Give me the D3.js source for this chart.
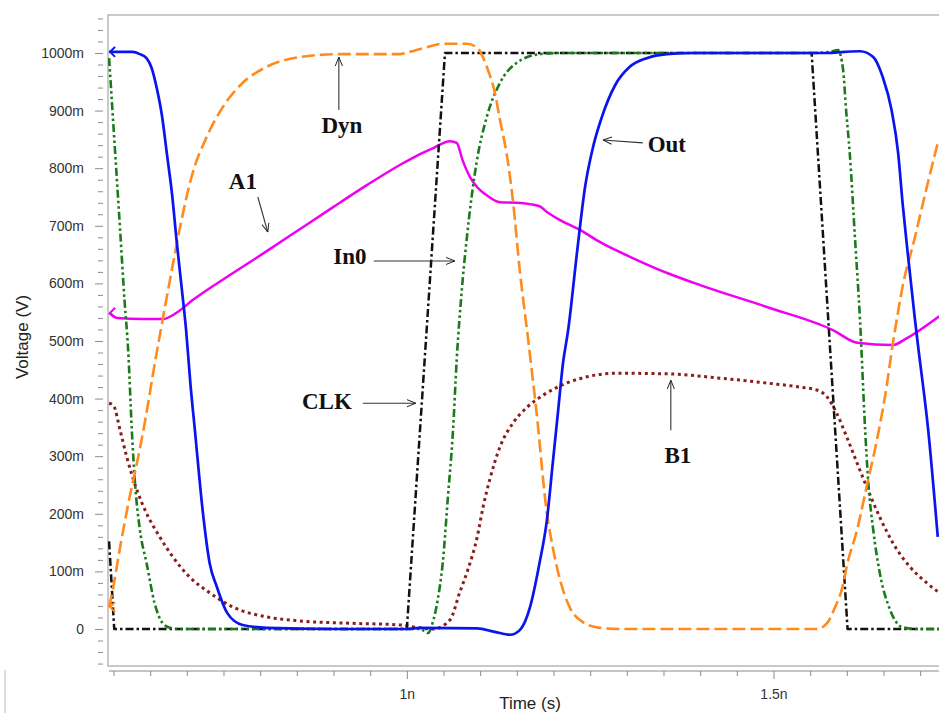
<!DOCTYPE html>
<html>
<head>
<meta charset="utf-8">
<script src="https://cdn.jsdelivr.net/npm/d3@7"></script>
<style>
  body { margin: 0; background: #fff; }
  svg { display: block; }
  .tick text { font-family: "Liberation Sans", Arial, sans-serif; font-size: 14px; fill: #333; }
  .tick line { stroke: #8c8c8c; }
  .axis-title { font-family: "Liberation Sans", Arial, sans-serif; font-size: 17px; fill: #222; }
  .note { font-family: "Liberation Serif", "Times New Roman", serif; font-weight: bold; font-size: 23px; fill: #111; }
  .wave { fill: none; stroke-linejoin: round; }
</style>
</head>
<body>
<svg id="chart"></svg>
<script>
// time in ns, voltage in mV
const outWave = [[0.594,1002],[0.626,1002],[0.636,998],[0.645,991],[0.652,974],[0.659,939],[0.666,892],[0.673,823],[0.680,753],[0.686,675],[0.693,592],[0.699,519],[0.705,424],[0.711,345],[0.722,201],[0.731,115],[0.741,73],[0.755,28],[0.776,7],[0.809,2],[0.900,0],[1.000,0],[1.018,2],[1.096,1],[1.120,-5],[1.141,-10],[1.154,-2],[1.168,38],[1.181,115],[1.191,189],[1.199,288],[1.206,375],[1.213,462],[1.220,519],[1.232,653],[1.243,767],[1.254,837],[1.266,889],[1.284,944],[1.304,976],[1.327,991],[1.355,998],[1.390,1000],[1.573,1000],[1.597,1002],[1.618,1003],[1.636,993],[1.649,958],[1.661,901],[1.670,826],[1.676,740],[1.683,653],[1.693,536],[1.697,493],[1.711,345],[1.724,160]];

const dynWave = [[0.594,38],[0.599,68],[0.609,142],[0.622,229],[0.632,288],[0.645,375],[0.654,444],[0.666,530],[0.677,606],[0.690,693],[0.708,792],[0.727,854],[0.749,906],[0.776,948],[0.809,976],[0.854,993],[0.909,998],[0.990,998],[1.004,1002],[1.027,1010],[1.049,1016],[1.082,1016],[1.096,1009],[1.109,976],[1.120,931],[1.127,884],[1.136,826],[1.145,740],[1.154,623],[1.165,507],[1.177,375],[1.191,201],[1.199,142],[1.209,85],[1.222,38],[1.240,12],[1.263,2],[1.290,0],[1.559,0],[1.573,10],[1.584,38],[1.593,68],[1.601,115],[1.614,172],[1.627,247],[1.641,328],[1.652,403],[1.663,497],[1.676,594],[1.693,681],[1.709,767],[1.724,844]];

const a1Wave = [[0.594,549],[0.605,540],[0.640,538],[0.667,538],[0.686,549],[0.708,571],[0.763,618],[0.809,656],[0.854,694],[0.899,732],[0.946,771],[0.991,806],[1.014,822],[1.036,835],[1.059,847],[1.068,844],[1.076,814],[1.086,785],[1.096,767],[1.109,753],[1.127,741],[1.150,740],[1.181,734],[1.191,724],[1.209,710],[1.236,693],[1.263,672],[1.308,644],[1.355,618],[1.400,597],[1.491,559],[1.581,519],[1.614,497],[1.663,493],[1.682,505],[1.726,543]];

const b1Wave = [[0.594,392],[0.600,388],[0.609,345],[0.618,299],[0.632,241],[0.645,201],[0.663,160],[0.681,125],[0.704,90],[0.731,63],[0.763,38],[0.809,21],[0.854,14],[0.922,10],[0.991,7],[1.018,2],[1.036,0],[1.059,16],[1.072,63],[1.083,102],[1.096,160],[1.104,212],[1.113,259],[1.127,316],[1.145,358],[1.164,385],[1.186,406],[1.218,427],[1.246,438],[1.286,444],[1.355,443],[1.423,436],[1.491,427],[1.536,420],[1.559,415],[1.573,403],[1.586,375],[1.600,333],[1.614,288],[1.627,247],[1.645,194],[1.663,149],[1.686,108],[1.709,80],[1.726,63]];

const in0Wave = [[0.594,991],[0.602,832],[0.609,693],[0.615,571],[0.620,484],[0.625,345],[0.629,259],[0.636,172],[0.645,115],[0.656,45],[0.667,10],[0.677,2],[0.690,0],[1.018,0],[1.029,-7],[1.035,10],[1.042,50],[1.049,115],[1.056,229],[1.063,345],[1.068,467],[1.075,589],[1.082,681],[1.095,809],[1.109,889],[1.127,948],[1.150,983],[1.181,998],[1.209,1000],[1.550,1000],[1.577,1002],[1.588,1005],[1.595,970],[1.599,901],[1.604,826],[1.611,681],[1.618,536],[1.625,345],[1.629,259],[1.636,172],[1.645,97],[1.659,33],[1.676,3],[1.696,0],[1.727,0]];

const clkWave = [[0.594,152],[0.601,0],[1.000,0],[1.052,1000],[1.552,1000],[1.601,0],[1.730,0]];

const yTickValues = d3.range(-60, 1061, 20);
const yTickLabels = ["0","100m","200m","300m","400m","500m","600m","700m","800m","900m","1000m"];
const xTickValues = d3.range(12, 35).map(d => d / 20);
const xMajorValues = [1, 1.5];
const xTickLabels = ["1n", "1.5n"];

// label, text anchor [t, v], arrow from [t, v] to [t, v]
const notes = [
  {text: "Dyn", at: [0.9114, 861], from: [0.9073, 901], to: [0.9073, 993]},
  {text: "A1",  at: [0.7764, 764], from: [0.7968, 750], to: [0.8104, 689]},
  {text: "In0", at: [0.9223, 634], from: [0.9550, 639], to: [1.0655, 639]},
  {text: "Out", at: [1.3546, 828], from: [1.3218, 844], to: [1.2673, 849]},
  {text: "CLK", at: [0.8910, 382], from: [0.9400, 392], to: [1.0123, 392]},
  {text: "B1",  at: [1.3696, 288], from: [1.3600, 345], to: [1.3600, 432]}
];

class WaveChart {
  constructor(_config) {
    this.config = {
      parentElement: _config.parentElement,
      containerWidth: _config.containerWidth || 939,
      containerHeight: _config.containerHeight || 713,
      frame: {left: 108, top: 15, right: 947, bottom: 666}
    };
    this.series = _config.series;
    this.notes = _config.notes;
    this.initVis();
  }

  initVis() {
    let vis = this;
    const f = vis.config.frame;

    vis.svg = d3.select(vis.config.parentElement)
      .attr('width', vis.config.containerWidth)
      .attr('height', vis.config.containerHeight);

    vis.x = d3.scaleLinear().domain([0.5925, 1.7366]).range([f.left, f.right]);
    vis.y = d3.scaleLinear().domain([-64.24, 1065.97]).range([f.bottom, f.top]);

    const defs = vis.svg.append('defs');
    defs.append('clipPath').attr('id', 'plotClip')
      .append('rect')
      .attr('x', f.left).attr('y', f.top)
      .attr('width', f.right - f.left).attr('height', f.bottom - f.top);

    defs.append('marker')
      .attr('id', 'arrowHead')
      .attr('viewBox', '0 0 10 10')
      .attr('refX', 10).attr('refY', 5)
      .attr('markerWidth', 9).attr('markerHeight', 9)
      .attr('markerUnits', 'userSpaceOnUse')
      .attr('orient', 'auto')
      .append('path')
      .attr('d', 'M0,1 L10,5 L0,9')
      .attr('fill', 'none')
      .attr('stroke', '#222')
      .attr('stroke-width', 1.1);

    // plot frame
    vis.svg.append('rect')
      .attr('x', f.left).attr('y', f.top)
      .attr('width', f.right - f.left).attr('height', f.bottom - f.top)
      .attr('fill', 'none')
      .attr('stroke', '#a6a6a6')
      .attr('stroke-width', 1.2);

    // stray window edge at bottom left
    vis.svg.append('line')
      .attr('x1', 5).attr('x2', 5).attr('y1', 670).attr('y2', 713)
      .attr('stroke', '#d0d0d0').attr('stroke-width', 1.5);

    vis.chart = vis.svg.append('g').attr('clip-path', 'url(#plotClip)');
    vis.annot = vis.svg.append('g');
  }

  update() {
    let vis = this;
    const f = vis.config.frame;

    // y axis: minor ticks every 20m, labels every 100m
    const yAxis = d3.axisLeft(vis.y)
      .tickValues(yTickValues)
      .tickSize(5)
      .tickPadding(14)
      .tickFormat(d => (d >= 0 && d % 100 === 0) ? yTickLabels[d / 100] : '');
    const gy = vis.svg.append('g')
      .attr('transform', `translate(${f.left - 5},0)`)
      .call(yAxis);
    gy.select('.domain').remove();
    gy.selectAll('.tick').filter(d => d % 100 === 0).select('line').attr('x2', -8);

    // x axis sits just under the frame
    const xAxis = d3.axisBottom(vis.x)
      .tickValues(xTickValues)
      .tickSize(5)
      .tickSizeOuter(0)
      .tickPadding(13)
      .tickFormat(d => {
        const i = xMajorValues.findIndex(m => Math.abs(m - d) < 1e-6);
        return i >= 0 ? xTickLabels[i] : '';
      });
    const gx = vis.svg.append('g')
      .attr('transform', `translate(0,${f.bottom + 5})`)
      .call(xAxis);
    gx.select('.domain').attr('stroke', '#8c8c8c').attr('d', `M${f.left + 1},0H${f.right}`);
    gx.selectAll('.tick')
      .filter(d => xMajorValues.some(m => Math.abs(m - d) < 1e-6))
      .select('line').attr('y2', 8);

    vis.svg.append('text')
      .attr('class', 'axis-title')
      .attr('x', 530).attr('y', 709)
      .attr('text-anchor', 'middle')
      .text('Time (s)');

    vis.svg.append('text')
      .attr('class', 'axis-title')
      .attr('transform', 'translate(28,337) rotate(-90)')
      .attr('text-anchor', 'middle')
      .text('Voltage (V)');

    vis.render();
  }

  render() {
    let vis = this;

    const line = d3.line()
      .x(d => vis.x(d[0]))
      .y(d => vis.y(d[1]))
      .curve(d3.curveMonotoneX);
    const straight = d3.line()
      .x(d => vis.x(d[0]))
      .y(d => vis.y(d[1]));

    vis.chart.selectAll('path.wave')
      .data(vis.series)
      .join('path')
      .attr('class', 'wave')
      .attr('d', d => d.linear ? straight(d.data) : line(d.data))
      .attr('stroke', d => d.color)
      .attr('stroke-width', d => d.width)
      .attr('stroke-dasharray', d => d.dash);

    // little "<" start markers where a trace enters the window
    vis.chart.selectAll('path.start-mark')
      .data(vis.series.filter(d => d.startMark))
      .join('path')
      .attr('class', 'start-mark')
      .attr('d', d => {
        const x0 = vis.x(d.data[0][0]), y0 = vis.y(d.data[0][1]);
        return `M${x0 + 6},${y0 - 5}L${x0 + 1},${y0}L${x0 + 6},${y0 + 5}`;
      })
      .attr('fill', 'none')
      .attr('stroke', d => d.color)
      .attr('stroke-width', 2);

    vis.annot.selectAll('line')
      .data(vis.notes)
      .join('line')
      .attr('x1', d => vis.x(d.from[0]))
      .attr('y1', d => vis.y(d.from[1]))
      .attr('x2', d => vis.x(d.to[0]))
      .attr('y2', d => vis.y(d.to[1]))
      .attr('stroke', '#333')
      .attr('stroke-width', 1.1)
      .attr('marker-end', 'url(#arrowHead)');

    vis.annot.selectAll('text')
      .data(vis.notes)
      .join('text')
      .attr('class', 'note')
      .attr('x', d => vis.x(d.at[0]))
      .attr('y', d => vis.y(d.at[1]))
      .attr('text-anchor', 'middle')
      .text(d => d.text);
  }
}

const series = [
  {name: 'B1',  data: b1Wave,  color: '#8b1c1c', width: 3,   dash: '3,3.6', startMark: false},
  {name: 'A1',  data: a1Wave,  color: '#f000f0', width: 2.5, dash: null, startMark: true},
  {name: 'CLK', data: clkWave, color: '#111111', width: 2.5, dash: '8,3,2.5,3', linear: true},
  {name: 'In0', data: in0Wave, color: '#1b7a1b', width: 2.6, dash: '8,3,2.5,3,2.5,3'},
  {name: 'Dyn', data: dynWave, color: '#ff8a1e', width: 2.6, dash: '13,5', startMark: true},
  {name: 'Out', data: outWave, color: '#0a14ee', width: 2.7, dash: null, startMark: true}
];

const chart = new WaveChart({
  parentElement: '#chart',
  series: series,
  notes: notes
});
chart.update();
</script>
</body>
</html>
